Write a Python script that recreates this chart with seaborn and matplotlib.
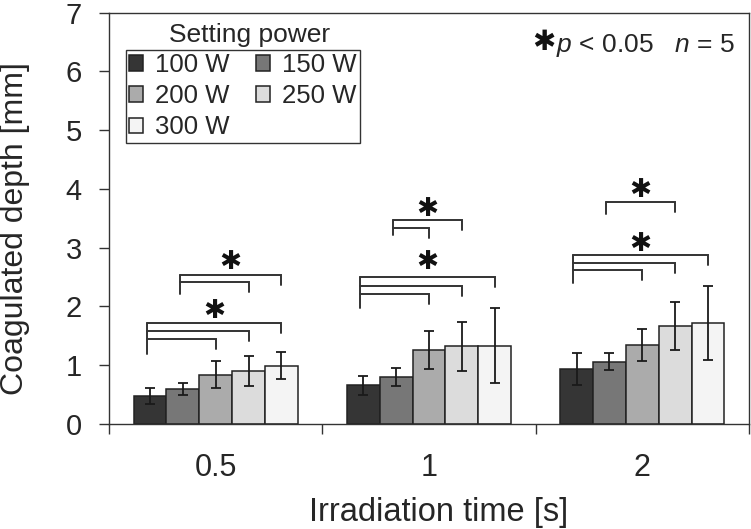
import matplotlib
matplotlib.use("Agg")
import matplotlib.pyplot as plt
import numpy as np
import pandas as pd
import seaborn as sns

# ---------------- data ----------------
times = ["0.5", "1", "2"]
powers = ["100 W", "150 W", "200 W", "250 W", "300 W"]

mean_100 = [0.47, 0.655, 0.93]
mean_150 = [0.59, 0.80, 1.06]
mean_200 = [0.84, 1.26, 1.35]
mean_250 = [0.90, 1.32, 1.67]
mean_300 = [0.99, 1.335, 1.72]

sd_100 = [0.136, 0.162, 0.27]
sd_150 = [0.10, 0.15, 0.14]
sd_200 = [0.23, 0.33, 0.27]
sd_250 = [0.25, 0.42, 0.41]
sd_300 = [0.227, 0.645, 0.63]

bar_colors = ["#353535", "#777777", "#ababab", "#dcdcdc", "#f4f4f4"]

# significance brackets: (group, left bar, right bars, line heights, left foot, star height)
sig_sets = [
    (0, 0, [2, 3, 4], [1.444, 1.581, 1.717], 1.19, 1.93),
    (0, 1, [3, 4], [2.41, 2.541], 2.205, 2.76),
    (1, 0, [2, 3, 4], [2.205, 2.348, 2.502], 1.973, 2.75),
    (1, 1, [2, 3], [3.337, 3.462], 3.223, 3.65),
    (2, 0, [2, 3, 4], [2.614, 2.74, 2.877], 2.399, 3.06),
    (2, 1, [3], [3.78], 3.58, 3.98),
]

means = [mean_100, mean_150, mean_200, mean_250, mean_300]
sds = [sd_100, sd_150, sd_200, sd_250, sd_300]
rows = []
for p, m in zip(powers, means):
    for t, v in zip(times, m):
        rows.append({"time": t, "power": p, "depth": v})
df = pd.DataFrame(rows)

# ---------------- style ----------------
sns.set_style("ticks")
plt.rcParams["font.family"] = ["Liberation Sans", "DejaVu Sans"]
plt.rcParams["mathtext.fontset"] = "custom"
plt.rcParams["mathtext.it"] = "Liberation Sans:italic"
plt.rcParams["mathtext.rm"] = "Liberation Sans"

W, H = 751, 529
fig = plt.figure(figsize=(W / 100, H / 100), dpi=100)
ax_l, ax_r, ax_t, ax_b = 109, 749, 12.5, 424
ax = fig.add_axes([ax_l / W, 1 - ax_b / H, (ax_r - ax_l) / W, (ax_b - ax_t) / H])

sns.barplot(data=df, x="time", y="depth", hue="power", order=times,
            hue_order=powers, palette=bar_colors, width=0.77, gap=0,
            edgecolor="#222222", linewidth=1.1, errorbar=None, ax=ax,
            saturation=1)

bar_conts = list(ax.containers)

# error bars
for i, cont in enumerate(bar_conts):
    for j, bar in enumerate(cont):
        x = bar.get_x() + bar.get_width() / 2
        ax.errorbar(x, bar.get_height(), yerr=sds[i][j], fmt="none",
                    ecolor="#1a1a1a", elinewidth=1.3, capsize=3.5,
                    capthick=1.3, zorder=5)

# significance brackets
def bar_center(g, b):
    bar = bar_conts[b][g]
    return bar.get_x() + bar.get_width() / 2

drop = 0.17
for g, lb, rbs, ys, foot, star_y in sig_sets:
    xl = bar_center(g, lb) - 0.015
    for rb, y in zip(rbs, ys):
        xr = bar_center(g, rb)
        ax.plot([xl, xr, xr], [y, y, y - drop], color="#333333", lw=1.4,
                solid_joinstyle="miter", zorder=6)
    ax.plot([xl, xl], [foot, max(ys)], color="#333333", lw=1.4, zorder=6)
    xm = (xl + bar_center(g, max(rbs))) / 2
    ax.text(xm, star_y, "\u2731", ha="center", va="center", fontsize=19,
            family="DejaVu Sans", color="#111111")

# axes
ax.set_xlim(-0.5, 2.5)
ax.set_ylim(0, 7)
ax.set_yticks(range(0, 8))
ax.set_xticks([-0.5, 0.5, 1.5, 2.5])
ax.set_xticklabels([])
ax.set_xticks([0, 1, 2], minor=True)
ax.set_xticklabels(times, minor=True)
ax.tick_params(axis="x", which="major", direction="out", length=7.5,
               width=1.0, color="#333333")
ax.tick_params(axis="x", which="minor", length=0, pad=21, labelsize=22)
ax.tick_params(axis="y", direction="out", length=7.5, width=1.0,
               color="#333333", pad=12, labelsize=21)
ax.set_xlabel("")
ax.set_ylabel("")
for s in ax.spines.values():
    s.set_color("#333333")
    s.set_linewidth(1.0)

fig.text(15.5 / W, 1 - 229 / H, "Coagulated depth [mm]", rotation=90,
         ha="center", va="center", fontsize=23)
fig.text(439 / W, 1 - 521.5 / H, "Irradiation time [s]", ha="center",
         va="baseline", fontsize=23.5)

# legend
handles, labels = ax.get_legend_handles_labels()
if ax.get_legend() is not None:
    ax.get_legend().remove()
order = [0, 2, 4, 1, 3]
leg = ax.legend([handles[k] for k in order], [labels[k] for k in order],
                ncol=2, loc="upper left",
                bbox_to_anchor=((126 - ax_l) / (ax_r - ax_l),
                                (ax_b - 50) / (ax_b - ax_t)),
                borderaxespad=0, frameon=True, fancybox=False,
                edgecolor="#333333", framealpha=1, fontsize=18.5,
                handlelength=0.55, handleheight=0.55, handletextpad=0.45,
                columnspacing=1.05, labelspacing=0.28, borderpad=0.12)
leg.get_frame().set_linewidth(1.0)
fig.text(250 / W, 1 - 42 / H, "Setting power", ha="center", va="baseline",
         fontsize=19)

fig.text(544 / W, 1 - 42 / H, "\u2731", ha="center", va="center",
         fontsize=20, family="DejaVu Sans", color="#111111")
fig.text(556 / W, 1 - 52 / H, "$p$ < 0.05   $n$ = 5", ha="left",
         va="baseline", fontsize=19)

fig.savefig("out.png", dpi=100)
